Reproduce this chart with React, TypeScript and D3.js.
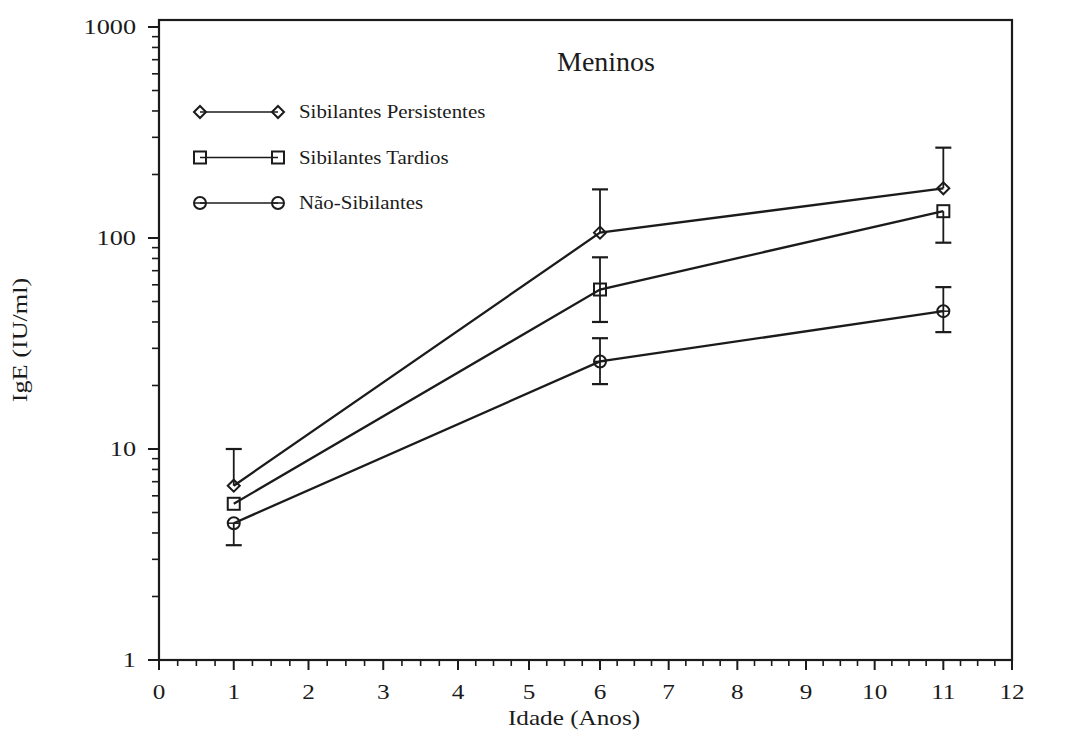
import React from "react";
import * as d3 from "d3";

// Age points (years) and IgE geometric means per group
const ages = [1, 6, 11];
const seriesNames = ["Sibilantes Persistentes", "Sibilantes Tardios", "Não-Sibilantes"];
const persistentes = [6.7, 106, 172];
const tardios = [5.5, 57, 134];
const naoSibilantes = [4.45, 26, 45];

// Error bars: [upper, lower] (null when not shown)
const persistentesErr: (number | null)[][] = [[10, null], [170, null], [268, null]];
const tardiosErr: (number | null)[][] = [[null, null], [81, 40], [null, 95]];
const naoSibilantesErr: (number | null)[][] = [[null, 3.5], [33.5, 20.3], [58.5, 35.8]];

const xTicks = d3.range(0, 13);
const yTicks = [1, 10, 100, 1000];

const W = 1068;
const H = 731;
const ink = "#1b1b1b";
const serif = "'Liberation Serif', 'Times New Roman', serif";

type Shape = "diamond" | "square" | "circle";

function Marker({ x, y, shape }: { x: number; y: number; shape: Shape }) {
  const s = 6;
  if (shape === "diamond") {
    return (
      <path
        d={`M${x - s},${y} L${x},${y - s} L${x + s},${y} L${x},${y + s} Z`}
        fill="none"
        stroke={ink}
        strokeWidth={2}
      />
    );
  }
  if (shape === "square") {
    return <rect x={x - s} y={y - s} width={2 * s} height={2 * s} fill="none" stroke={ink} strokeWidth={2} />;
  }
  return (
    <g>
      <circle cx={x} cy={y} r={s} fill="none" stroke={ink} strokeWidth={2} />
      <line x1={x - s} x2={x + s} y1={y} y2={y} stroke={ink} strokeWidth={1.5} />
    </g>
  );
}

function Stretch({ x, y, sx, anchor, size, children }: any) {
  return (
    <text
      transform={`translate(${x},${y}) scale(${sx},1)`}
      textAnchor={anchor}
      fontFamily={serif}
      fontSize={size}
      fill={ink}
    >
      {children}
    </text>
  );
}

export default function App() {
  const left = 159;
  const right = 1012;
  const top = 20;
  const bottom = 660;

  // the printed age axis is slightly compressed towards the right
  const x = d3.scaleLinear().domain([0, 4, 6, 12]).range([left, 458, 600, right]);
  const y = d3.scaleLog().domain([1, 1000]).range([bottom, 27]);

  const line = d3
    .line<number>()
    .x((_, i) => x(ages[i]))
    .y((v) => y(v));

  const series = [
    { name: seriesNames[0], values: persistentes, err: persistentesErr, shape: "diamond" as Shape },
    { name: seriesNames[1], values: tardios, err: tardiosErr, shape: "square" as Shape },
    { name: seriesNames[2], values: naoSibilantes, err: naoSibilantesErr, shape: "circle" as Shape },
  ];

  const yMinor: number[] = [];
  for (let d = 1; d < 1000; d *= 10) for (let k = 2; k <= 9; k++) yMinor.push(d * k);
  const xMinor = d3.range(0, 12.001, 0.25).filter((v) => Math.abs(v - Math.round(v)) > 1e-6);

  const cap = 8;

  return (
    <svg width={W} height={H} style={{ position: "absolute", left: 0, top: 0, background: "#fff" }}>
      <rect width={W} height={H} fill="#fff" />

      {/* frame */}
      <rect x={left} y={top} width={right - left} height={bottom - top} fill="none" stroke={ink} strokeWidth={2.2} />

      {/* y axis ticks */}
      {yTicks.map((t) => (
        <g key={`yt${t}`}>
          <line x1={left - 11} x2={left} y1={y(t)} y2={y(t)} stroke={ink} strokeWidth={2} />
          <Stretch x={left - 23} y={y(t) + 7} sx={1.25} anchor="end" size={21}>
            {t}
          </Stretch>
        </g>
      ))}
      {yMinor.map((t) => (
        <line key={`ym${t}`} x1={left - 7} x2={left} y1={y(t)} y2={y(t)} stroke={ink} strokeWidth={1.6} />
      ))}

      {/* x axis ticks */}
      {xTicks.map((t) => (
        <g key={`xt${t}`}>
          <line x1={x(t)} x2={x(t)} y1={bottom} y2={bottom + 10} stroke={ink} strokeWidth={2} />
          <Stretch x={x(t)} y={bottom + 39} sx={1.2} anchor="middle" size={21}>
            {t}
          </Stretch>
        </g>
      ))}
      {xMinor.map((t) => (
        <line key={`xm${t}`} x1={x(t)} x2={x(t)} y1={bottom} y2={bottom + 6} stroke={ink} strokeWidth={1.6} />
      ))}

      {/* axis titles */}
      <Stretch x={574} y={bottom + 65} sx={1.2} anchor="middle" size={21}>
        Idade (Anos)
      </Stretch>
      <text
        transform={`translate(27,${(top + bottom) / 2}) rotate(-90) scale(1.25,1)`}
        textAnchor="middle"
        fontFamily={serif}
        fontSize={21}
        fill={ink}
      >
        IgE (IU/ml)
      </text>

      {/* panel title */}
      <text x={606} y={71} textAnchor="middle" fontFamily={serif} fontSize={28} fill={ink}>
        Meninos
      </text>

      {/* error bars */}
      {series.map((s) =>
        s.err.map(([up, lo], i) => {
          const cx = x(ages[i]);
          const cy = y(s.values[i]);
          return (
            <g key={`${s.name}-e${i}`} stroke={ink} strokeWidth={1.8}>
              {up != null && (
                <>
                  <line x1={cx} x2={cx} y1={cy} y2={y(up)} />
                  <line x1={cx - cap} x2={cx + cap} y1={y(up)} y2={y(up)} strokeWidth={2.2} />
                </>
              )}
              {lo != null && (
                <>
                  <line x1={cx} x2={cx} y1={cy} y2={y(lo)} />
                  <line x1={cx - cap} x2={cx + cap} y1={y(lo)} y2={y(lo)} strokeWidth={2.2} />
                </>
              )}
            </g>
          );
        })
      )}

      {/* series lines and markers */}
      {series.map((s) => (
        <g key={s.name}>
          <path d={line(s.values) || ""} fill="none" stroke={ink} strokeWidth={2.3} />
          {s.values.map((v, i) => (
            <Marker key={i} x={x(ages[i])} y={y(v)} shape={s.shape} />
          ))}
        </g>
      ))}

      {/* legend */}
      {series.map((s, i) => {
        const ly = 112 + i * 45.5;
        return (
          <g key={`lg${i}`}>
            <line x1={200} x2={278} y1={ly} y2={ly} stroke={ink} strokeWidth={1.6} />
            <Marker x={200} y={ly} shape={s.shape} />
            <Marker x={278} y={ly} shape={s.shape} />
            <Stretch x={299} y={ly + 6} sx={1.1} anchor="start" size={19}>
              {s.name}
            </Stretch>
          </g>
        );
      })}
    </svg>
  );
}
